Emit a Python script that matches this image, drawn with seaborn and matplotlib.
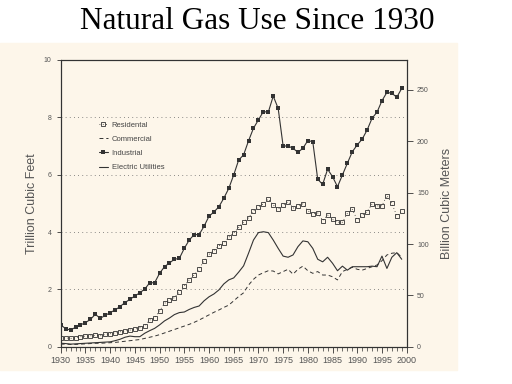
import matplotlib
matplotlib.use("Agg")
import matplotlib.pyplot as plt
from matplotlib.patches import Rectangle
from matplotlib.ticker import MultipleLocator
import pandas as pd
import seaborn as sns

years = list(range(1930, 2000))

industrial = [0.76, 0.63, 0.58, 0.68, 0.76, 0.84, 0.95, 1.13, 0.99, 1.09,
              1.19, 1.28, 1.40, 1.54, 1.65, 1.77, 1.88, 2.01, 2.23, 2.23,
              2.56, 2.79, 2.92, 3.05, 3.08, 3.43, 3.72, 3.91, 3.91, 4.20,
              4.55, 4.70, 4.88, 5.18, 5.52, 5.99, 6.51, 6.69, 7.18, 7.62,
              7.91, 8.20, 8.18, 8.74, 8.31, 7.00, 7.00, 6.92, 6.78, 6.92,
              7.19, 7.15, 5.84, 5.66, 6.19, 5.93, 5.58, 5.99, 6.40, 6.80,
              7.04, 7.24, 7.56, 7.97, 8.18, 8.58, 8.87, 8.84, 8.70, 9.01]

residential = [0.31, 0.31, 0.29, 0.31, 0.35, 0.37, 0.38, 0.40, 0.38, 0.43,
               0.45, 0.49, 0.52, 0.55, 0.58, 0.61, 0.66, 0.72, 0.93, 1.00,
               1.25, 1.51, 1.63, 1.71, 1.92, 2.12, 2.33, 2.50, 2.71, 3.00,
               3.22, 3.35, 3.52, 3.61, 3.82, 3.96, 4.16, 4.35, 4.50, 4.74,
               4.88, 4.98, 5.15, 4.94, 4.80, 4.94, 5.06, 4.83, 4.92, 4.98,
               4.74, 4.63, 4.67, 4.40, 4.59, 4.44, 4.34, 4.34, 4.65, 4.79,
               4.42, 4.59, 4.71, 4.98, 4.91, 4.92, 5.27, 5.00, 4.56, 4.73]

commercial = [0.09, 0.09, 0.08, 0.08, 0.09, 0.10, 0.11, 0.12, 0.12, 0.13,
              0.14, 0.15, 0.17, 0.19, 0.21, 0.23, 0.25, 0.29, 0.33, 0.37,
              0.42, 0.48, 0.54, 0.60, 0.66, 0.72, 0.78, 0.85, 0.93, 1.02,
              1.11, 1.20, 1.28, 1.37, 1.45, 1.60, 1.75, 1.88, 2.15, 2.35,
              2.50, 2.58, 2.65, 2.64, 2.54, 2.62, 2.70, 2.53, 2.70, 2.81,
              2.65, 2.56, 2.62, 2.50, 2.50, 2.44, 2.33, 2.62, 2.70, 2.77,
              2.70, 2.67, 2.73, 2.79, 2.85, 3.00, 3.20, 3.26, 3.28, 3.12]

electric = [0.12, 0.11, 0.09, 0.10, 0.11, 0.12, 0.13, 0.14, 0.15, 0.16,
            0.17, 0.21, 0.26, 0.33, 0.37, 0.35, 0.35, 0.47, 0.56, 0.64,
            0.76, 0.90, 1.00, 1.12, 1.19, 1.21, 1.30, 1.37, 1.42, 1.60,
            1.74, 1.84, 1.98, 2.19, 2.33, 2.40, 2.60, 2.82, 3.26, 3.72,
            3.98, 4.01, 3.98, 3.72, 3.43, 3.16, 3.12, 3.20, 3.49, 3.69,
            3.66, 3.43, 3.05, 2.96, 3.12, 2.91, 2.65, 2.81, 2.67, 2.79,
            2.79, 2.79, 2.79, 2.81, 2.79, 3.16, 2.73, 3.12, 3.28, 3.05]

df = pd.DataFrame({"Year": years, "Residental": residential, "Commercial": commercial,
                   "Industrial": industrial, "Electric Utilities": electric})

sns.set_style("ticks")
plt.rcParams["font.family"] = ["Liberation Sans", "DejaVu Sans"]

cream = "#fdf6ea"
ink = "#333333"
gray = "#555555"

fig = plt.figure(figsize=(5.12, 3.84), dpi=100)
fig.patches.append(Rectangle((0, 14 / 384), 457 / 512, 327 / 384,
                             transform=fig.transFigure, color=cream, zorder=-1))
ax = fig.add_axes([0.1186, 0.0971, 0.6757, 0.7467])
ax.set_facecolor(cream)

sns.lineplot(data=df, x="Year", y="Residental", ax=ax, color=ink, lw=0.6, ls=(0, (1, 3)),
             marker="s", markersize=2.2, markerfacecolor="none", markeredgecolor=ink,
             markeredgewidth=0.6, label="Residental")
sns.lineplot(data=df, x="Year", y="Commercial", ax=ax, color=ink, lw=0.7, ls=(0, (4, 3)),
             label="Commercial")
sns.lineplot(data=df, x="Year", y="Industrial", ax=ax, color=ink, lw=0.8,
             marker="s", markersize=2.6, markeredgewidth=0, label="Industrial")
sns.lineplot(data=df, x="Year", y="Electric Utilities", ax=ax, color=ink, lw=0.8,
             label="Electric Utilities")

ax.set_xlim(1930, 2000)
ax.set_ylim(0, 10)
ax.xaxis.set_major_locator(MultipleLocator(5))
ax.xaxis.set_minor_locator(MultipleLocator(1))
ax.yaxis.set_major_locator(MultipleLocator(2))
for v in [2, 4, 6, 8]:
    ax.axhline(v, color="#666666", lw=0.6, ls=(0, (1, 4)), zorder=0)

ax.tick_params(axis="x", which="major", length=4, width=0.6, color=ink, labelsize=6.5,
               labelcolor=gray, pad=3)
ax.tick_params(axis="x", which="minor", length=3, width=0.5, color=ink)
ax.tick_params(axis="y", length=3, width=0.6, color=ink, labelsize=5, labelcolor=gray)
for s in ax.spines.values():
    s.set_color(ink)
    s.set_linewidth(0.8)
    s.set_visible(True)
ax.set_xlabel("")
ax.set_ylabel("Trillion Cubic Feet", fontsize=9, color="#555555", labelpad=4)

ax2 = ax.twinx()
ax2.set_ylim(0, 10 * 27.92)
ax2.yaxis.set_major_locator(MultipleLocator(50))
ax2.tick_params(axis="y", length=4, width=0.6, color=ink, labelsize=5, labelcolor=gray)
for s in ax2.spines.values():
    s.set_color(ink)
    s.set_linewidth(0.8)
ax2.set_ylabel("Billion Cubic Meters", fontsize=9, color="#555555", labelpad=9)

leg = ax.legend(loc="upper left", bbox_to_anchor=(0.09, 0.81), frameon=False, fontsize=5.5,
                handlelength=1.2, handletextpad=0.5, labelspacing=0.9, labelcolor="#444444")

fig.text(0.502, 0.943, "Natural Gas Use Since 1930", ha="center", va="center",
         fontsize=22.5, family=["Liberation Serif", "DejaVu Serif"], color="black")

fig.savefig("out.png", dpi=100)
